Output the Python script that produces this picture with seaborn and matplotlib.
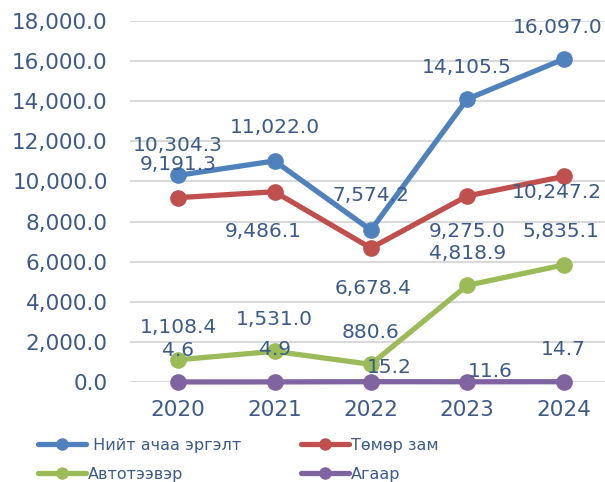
import matplotlib
matplotlib.use("Agg")
import matplotlib.pyplot as plt
import seaborn as sns
import pandas as pd
from matplotlib.lines import Line2D

years = ["2020", "2021", "2022", "2023", "2024"]
series_names = ["Нийт ачаа эргэлт", "Төмөр зам", "Автотээвэр", "Агаар"]
total = [10304.3, 11022.0, 7574.2, 14105.5, 16097.0]
rail = [9191.3, 9486.1, 6678.4, 9275.0, 10247.2]
road = [1108.4, 1531.0, 880.6, 4818.9, 5835.1]
air = [4.6, 4.9, 15.2, 11.6, 14.7]
yticks = [0, 2000, 4000, 6000, 8000, 10000, 12000, 14000, 16000, 18000]

colors = ["#4F81BD", "#C0504D", "#9BBB59", "#8064A2"]
text_color = "#3B5A8A"

values = [total, rail, road, air]
rows = []
for name, vals in zip(series_names, values):
    for i, v in enumerate(vals):
        rows.append({"year": i, "series": name, "value": v})
df = pd.DataFrame(rows)

sns.set_theme(style="white")
plt.rcParams['font.family'] = ['DejaVu Sans']

fig = plt.figure(figsize=(6.05, 4.82), dpi=100)
ax = fig.add_axes([130/605, 100/482, 475/605, 361/482])

sns.lineplot(data=df, x="year", y="value", hue="series", hue_order=series_names,
             palette=colors, marker="o", markersize=12, linewidth=3.8,
             markeredgewidth=0, ax=ax, legend=False, zorder=3)
for ln in ax.lines:
    ln.set_clip_on(False)

ax.set_ylim(0, 18000)
ax.set_xlim(-0.5, 4.43)
ax.set_yticks(yticks)
ax.set_yticklabels([f"{t:,.1f}" for t in yticks])
ax.set_xticks(range(len(years)))
ax.set_xticklabels(years)
ax.tick_params(axis="both", colors=text_color, labelsize=15.5, length=0)
ax.tick_params(axis="y", pad=16)
ax.tick_params(axis="x", pad=13)
ax.grid(axis="y", color="#D9D9D9", linewidth=1.5)
ax.set_axisbelow(True)
for s in ax.spines.values():
    s.set_visible(False)
ax.set_xlabel("")
ax.set_ylabel("")

# label offsets in pixels (dx, dy up)
offsets = [
    [(0, 30), (0, 33), (0, 35), (0, 32), (-6, 32)],
    [(0, 33), (-11, -40), (2, -40), (0, -36), (-7, -16)],
    [(0, 32), (0, 32), (0, 32), (0, 32), (-3, 33)],
    [(0, 31), (0, 32), (18, 14), (23, 10), (0, 32)],
]
for vals, offs in zip(values, offsets):
    for i, (v, (dx, dy)) in enumerate(zip(vals, offs)):
        ax.annotate(f"{v:,.1f}", xy=(i, v), xytext=(dx, dy), textcoords="offset pixels",
                    ha="center", va="center", fontsize=14.5, color=text_color, zorder=5)

order = [0, 2, 1, 3]
handles = [Line2D([0], [0], color=colors[k], lw=3.8, marker="o", markersize=9,
                  markeredgewidth=0) for k in order]
labels = [(" " if k == 0 else "") + series_names[k] for k in order]
fig.legend(handles, labels, ncol=2, loc="upper left", bbox_to_anchor=(38/605, 1 - 438/482),
           frameon=False, fontsize=11.5, labelcolor=text_color, handlelength=3.0,
           handletextpad=0.15, columnspacing=3.7, labelspacing=0.85, borderpad=0,
           borderaxespad=0)

fig.savefig("out.png", dpi=100)
